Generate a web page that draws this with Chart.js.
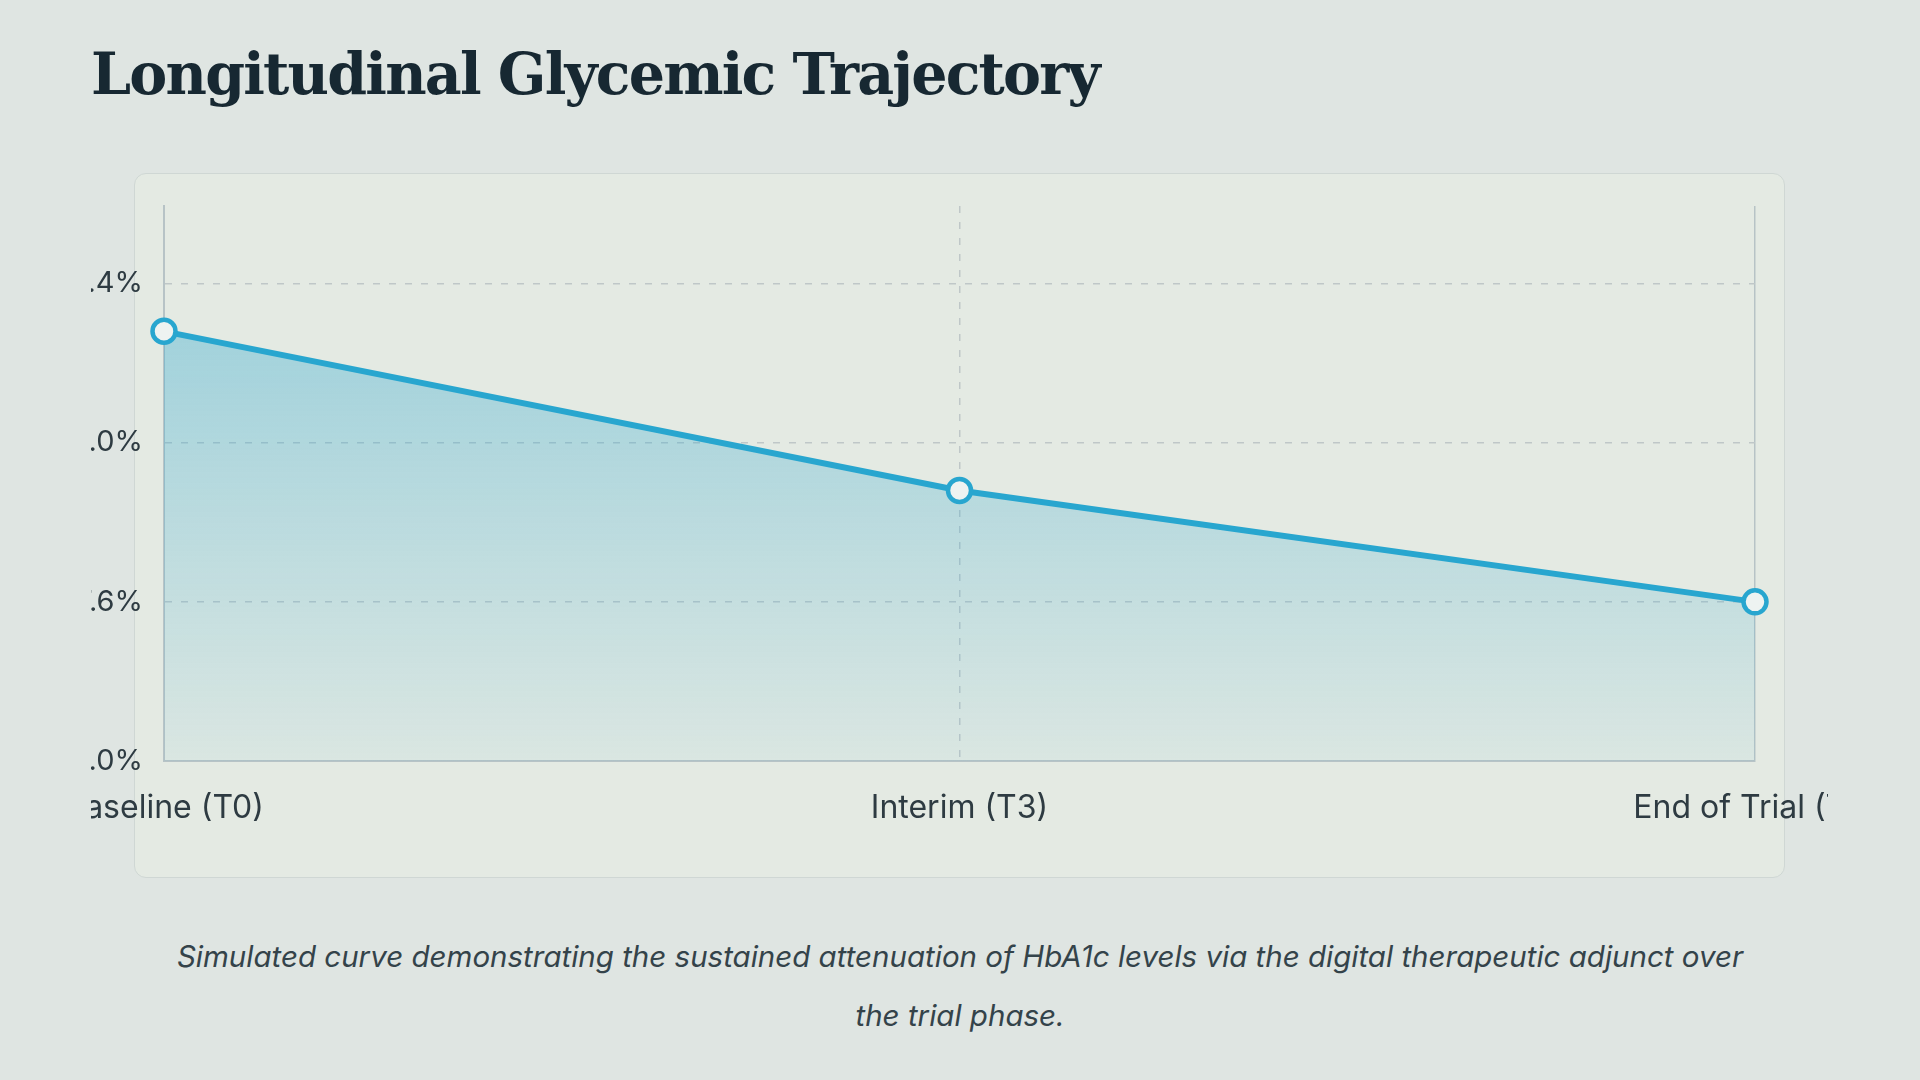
<!DOCTYPE html>
<html>
<head>
<meta charset="utf-8">
<title>Longitudinal Glycemic Trajectory</title>
<script src="https://cdn.jsdelivr.net/npm/chart.js@4/dist/chart.umd.min.js"></script>
<style>
    html, body { margin: 0; padding: 0; }
    body {
        width: 1920px;
        height: 1080px;
        overflow: hidden;
        background: #dfe5e2;
        position: relative;
        font-family: 'Inter', 'DejaVu Sans', sans-serif;
    }
    h1 {
        position: absolute;
        left: 91px;
        top: 38px;
        margin: 0;
        font-family: 'DejaVu Serif', serif;
        font-weight: bold;
        font-size: 57px;
        letter-spacing: -1.8px;
        line-height: 72px;
        color: #172832;
        white-space: nowrap;
    }
    .card {
        position: absolute;
        left: 134px;
        top: 173px;
        width: 1649px;
        height: 703px;
        background: #e4eae3;
        border: 1.5px solid #cfd7d4;
        border-radius: 12px;
    }
    .chart-wrap {
        position: absolute;
        left: 91px;
        top: 190px;
        width: 1737px;
        height: 660px;
    }
    .caption {
        position: absolute;
        left: 0;
        width: 1920px;
        top: 927px;
        margin: 0;
        text-align: center;
        font-family: 'Inter', sans-serif;
        font-style: italic;
        font-size: 29.5px;
        line-height: 59px;
        color: #34434a;
    }
</style>
</head>
<body>
<h1>Longitudinal Glycemic Trajectory</h1>
<div class="card"></div>
<div class="chart-wrap"><canvas id="hba1cChart"></canvas></div>
<p class="caption">Simulated curve demonstrating the sustained attenuation of HbA1c levels via the digital therapeutic adjunct over<br>the trial phase.</p>

<script>
// Trial timepoints and HbA1c (%)
const timepoints = ['Baseline (T0)', 'Interim (T3)', 'End of Trial (T6)'];
const hba1cValues = [8.28, 7.88, 7.6];

// y axis ticks as shown
const yTickValues = [7.2, 7.6, 8.0, 8.4];
const yTickLabels = ['7.0%', '7.6%', '8.0%', '8.4%'];

const lineColor = '#28a6cf';
const gridColor = '#bfc7c8';
const axisColor = '#b7c3c6';
const tickColor = '#2e3b42';

document.addEventListener('DOMContentLoaded', function() {
    const ctx = document.getElementById('hba1cChart');

    new Chart(ctx, {
        type: 'line',
        data: {
            labels: timepoints,
            datasets: [{
                data: hba1cValues,
                borderColor: lineColor,
                borderWidth: 6,
                tension: 0,
                fill: 'start',
                backgroundColor: (c) => {
                    const area = c.chart.chartArea;
                    if (!area) return 'rgba(40,166,207,0.3)';
                    const g = c.chart.ctx.createLinearGradient(0, area.top, 0, area.bottom);
                    g.addColorStop(0, 'rgba(40,166,207,0.44)');
                    g.addColorStop(1, 'rgba(40,166,207,0.05)');
                    return g;
                },
                pointRadius: 11.5,
                pointHoverRadius: 11.5,
                pointBorderWidth: 4.5,
                pointBorderColor: lineColor,
                pointBackgroundColor: '#eef3f1',
                clip: false
            }]
        },
        options: {
            responsive: true,
            maintainAspectRatio: false,
            animation: false,
            layout: { padding: { top: 15, right: 73, left: 0, bottom: 0 } },
            plugins: {
                legend: { display: false },
                tooltip: { enabled: false }
            },
            scales: {
                x: {
                    offset: false,
                    grid: {
                        drawTicks: false,
                        lineWidth: 1.5,
                        color: (c) => c.index === 1 ? gridColor : axisColor
                    },
                    border: {
                        color: axisColor,
                        width: 2,
                        dash: (c) => c.index === 1 ? [7, 9] : []
                    },
                    ticks: {
                        color: tickColor,
                        font: { family: 'Inter', size: 32 },
                        padding: 28,
                        maxRotation: 0,
                        autoSkip: false
                    },
                    afterFit: (s) => {
                        s.height = 89;
                        s.paddingLeft = 0;
                        s.paddingRight = 0;
                    }
                },
                y: {
                    min: 7.2,
                    max: 8.595,
                    afterBuildTicks: (s) => {
                        s.ticks = yTickValues.map(v => ({ value: v }));
                    },
                    grid: {
                        drawTicks: false,
                        lineWidth: 1.5,
                        color: (c) => c.index === 0 ? 'rgba(0,0,0,0)' : gridColor
                    },
                    border: {
                        color: axisColor,
                        width: 2,
                        dash: [7, 9]
                    },
                    ticks: {
                        color: tickColor,
                        font: { family: 'Inter', size: 29 },
                        padding: 21,
                        callback: (v, i) => yTickLabels[i]
                    },
                    afterFit: (s) => {
                        s.width = 73;
                        s.paddingTop = 0;
                        s.paddingBottom = 0;
                    }
                }
            }
        }
    });
});
</script>
</body>
</html>
